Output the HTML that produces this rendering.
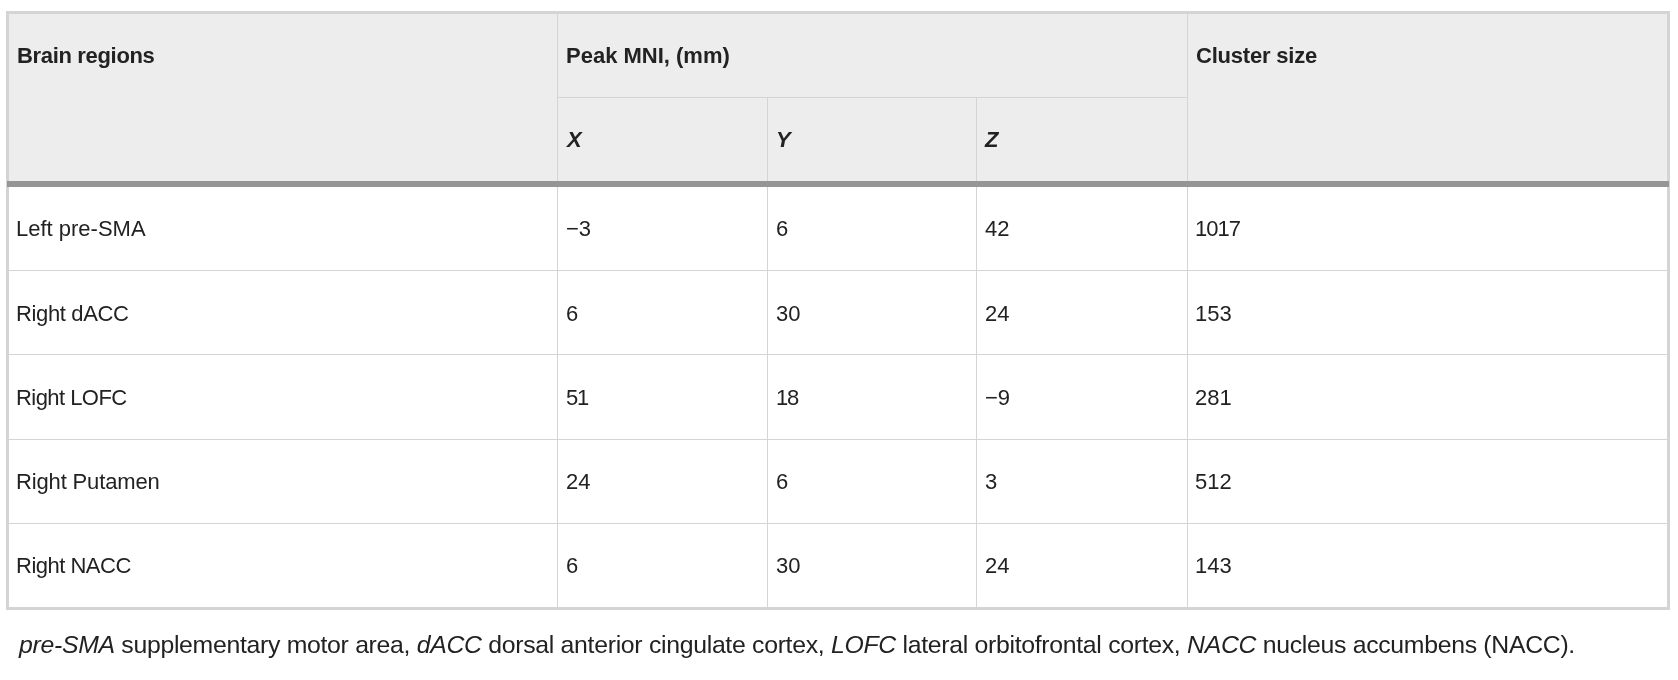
<!DOCTYPE html>
<html>
<head>
<meta charset="utf-8">
<style>
html,body{margin:0;padding:0;background:#fff;}
body{width:1678px;height:680px;position:relative;overflow:hidden;font-family:"Liberation Sans",sans-serif;color:#222;}
.tbl{position:absolute;left:6px;top:11px;width:1658px;height:593px;border:3px solid #d4d4d4;background:#fff;}
.head{position:absolute;left:9px;top:14px;width:1658px;height:167px;background:#ededed;}
.thick{position:absolute;left:7px;top:181px;width:1662px;height:6px;background:#959595;}
.v{position:absolute;width:1px;background:#d5d5d5;}
.h{position:absolute;height:1px;background:#d5d5d5;}
.t{position:absolute;will-change:transform;white-space:nowrap;font-size:22px;line-height:22px;}
.b{font-weight:bold;}
.br{letter-spacing:-0.33px;}
.bi{font-weight:bold;font-style:italic;}
.foot{position:absolute;will-change:transform;left:18px;white-space:nowrap;font-size:24.8px;line-height:24px;letter-spacing:-0.3px;}
</style>
</head>
<body>
<div class="tbl"></div>
<div class="head"></div>
<!-- header lines -->
<div class="v" style="left:557px;top:14px;height:593px"></div>
<div class="v" style="left:1187px;top:14px;height:593px"></div>
<div class="h" style="left:558px;top:97px;width:629px"></div>
<div class="v" style="left:767px;top:98px;height:509px"></div>
<div class="v" style="left:976px;top:98px;height:509px"></div>
<!-- body row lines -->
<div class="h" style="left:9px;top:270px;width:1658px"></div>
<div class="h" style="left:9px;top:354px;width:1658px"></div>
<div class="h" style="left:9px;top:439px;width:1658px"></div>
<div class="h" style="left:9px;top:523px;width:1658px"></div>
<div class="thick"></div>

<!-- header text -->
<div class="t b br" style="left:17px;top:45px">Brain regions</div>
<div class="t b" style="left:566px;top:45px">Peak MNI, (mm)</div>
<div class="t b" style="left:1196px;top:45px;letter-spacing:-0.2px">Cluster size</div>
<div class="t bi" style="left:567px;top:129px">X</div>
<div class="t bi" style="left:776px;top:129px">Y</div>
<div class="t bi" style="left:985px;top:129px">Z</div>

<!-- body rows -->
<div class="t" style="left:16px;top:218px">Left pre-SMA</div>
<div class="t" style="left:566px;top:218px">&minus;3</div>
<div class="t" style="left:776px;top:218px">6</div>
<div class="t" style="left:985px;top:218px">42</div>
<div class="t" style="left:1195px;top:218px;letter-spacing:-1px">1017</div>

<div class="t" style="left:16px;top:303px;letter-spacing:-0.35px">Right dACC</div>
<div class="t" style="left:566px;top:303px">6</div>
<div class="t" style="left:776px;top:303px">30</div>
<div class="t" style="left:985px;top:303px">24</div>
<div class="t" style="left:1195px;top:303px">153</div>

<div class="t" style="left:16px;top:387px;letter-spacing:-0.55px">Right LOFC</div>
<div class="t" style="left:566px;top:387px;letter-spacing:-1.2px">51</div>
<div class="t" style="left:776px;top:387px;letter-spacing:-1.2px">18</div>
<div class="t" style="left:985px;top:387px">&minus;9</div>
<div class="t" style="left:1195px;top:387px">281</div>

<div class="t" style="left:16px;top:471px;letter-spacing:-0.15px">Right Putamen</div>
<div class="t" style="left:566px;top:471px">24</div>
<div class="t" style="left:776px;top:471px">6</div>
<div class="t" style="left:985px;top:471px">3</div>
<div class="t" style="left:1195px;top:471px">512</div>

<div class="t" style="left:16px;top:555px;letter-spacing:-0.5px">Right NACC</div>
<div class="t" style="left:566px;top:555px">6</div>
<div class="t" style="left:776px;top:555px">30</div>
<div class="t" style="left:985px;top:555px">24</div>
<div class="t" style="left:1195px;top:555px">143</div>

<div class="foot" style="top:633px;left:19px"><i>pre-SMA</i> supplementary motor area, <i>dACC</i> dorsal anterior cingulate cortex, <i>LOFC</i> lateral orbitofrontal cortex, <i>NACC</i> nucleus accumbens (NACC).</div>
</body>
</html>
